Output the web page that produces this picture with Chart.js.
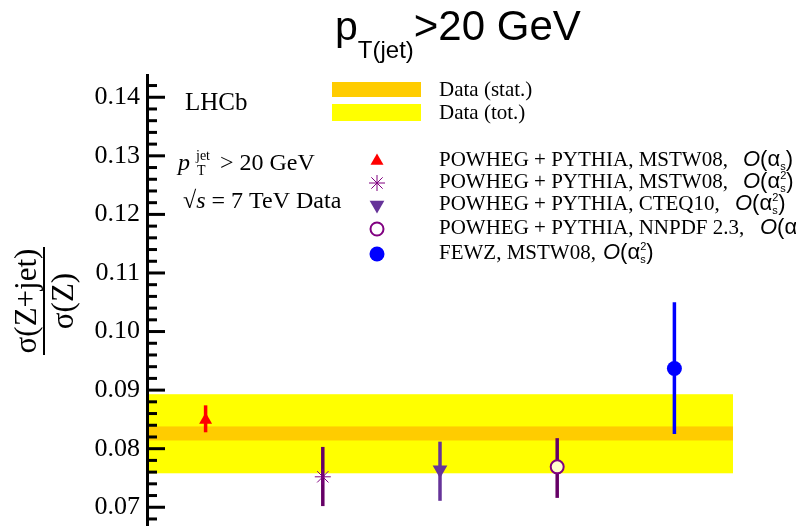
<!DOCTYPE html>
<html>
<head>
<meta charset="utf-8">
<script src="https://cdn.jsdelivr.net/npm/chart.js@4.4.0/dist/chart.umd.min.js"></script>
<style>
  body { margin: 0; background: #fff; }
  #wrap { width: 796px; height: 526px; position: relative; }
</style>
</head>
<body>
<div id="wrap"><canvas id="myChart" width="796" height="526"></canvas></div>
<script>
// values (sigma(Z+jet)/sigma(Z), pT jet > 20 GeV)
const modelLabels = [
  "POWHEG + PYTHIA, MSTW08, O(as)",
  "POWHEG + PYTHIA, MSTW08, O(as2)",
  "POWHEG + PYTHIA, CTEQ10, O(as2)",
  "POWHEG + PYTHIA, NNPDF 2.3, O(as2)",
  "FEWZ, MSTW08, O(as2)",
];
const modelX = [1, 2, 3, 4, 5];
const modelValues = [0.0849, 0.0752, 0.0764, 0.0769, 0.0937];
const modelErrLow = [0.0828, 0.0702, 0.0711, 0.0716, 0.0825];
const modelErrHigh = [0.0874, 0.0803, 0.0812, 0.0818, 0.105];
const dataStatBand = [0.0814, 0.0838];
const dataTotBand = [0.0758, 0.0893];
const yTickValues = [0.07, 0.08, 0.09, 0.1, 0.11, 0.12, 0.13, 0.14];
const yMin = 0.0668;
const yMax = 0.1438;
const xMin = 0.5;
const xMax = 5.5;

const serif = "'Liberation Serif', 'DejaVu Serif', serif";
const sans = "'Liberation Sans', Arial, sans-serif";

const markerStyles = [
  { pointStyle: "triangle", radius: 7.5, rotation: 0, fill: "#ff0000", stroke: "#ff0000", borderWidth: 0, bar: "#ff0000" },
  { pointStyle: "star", radius: 8, rotation: 0, fill: "#800080", stroke: "#800080", borderWidth: 1, bar: "#660066" },
  { pointStyle: "triangle", radius: 8.5, rotation: 180, fill: "#663399", stroke: "#663399", borderWidth: 0, bar: "#663399" },
  { pointStyle: "circle", radius: 6.5, rotation: 0, fill: "#ffffcc", stroke: "#800080", borderWidth: 2, bar: "#660066" },
  { pointStyle: "circle", radius: 7.5, rotation: 0, fill: "#0000ff", stroke: "#0000ff", borderWidth: 0, bar: "#0000ff" },
];

const datasets = modelLabels.map((label, i) => ({
  label: label,
  data: [{ x: modelX[i], y: modelValues[i] }],
  pointStyle: markerStyles[i].pointStyle,
  rotation: markerStyles[i].rotation,
  pointRadius: markerStyles[i].radius,
  backgroundColor: markerStyles[i].fill,
  borderColor: markerStyles[i].stroke,
  borderWidth: markerStyles[i].borderWidth,
  showLine: false,
  clip: false,
}));

// draws a list of text pieces one after the other
function textRun(ctx, x, y, parts) {
  parts.forEach((p) => {
    if (p.stack) {
      let w = 0;
      p.stack.forEach((s) => {
        ctx.font = s.font;
        ctx.fillText(s.t, x, y + s.dy);
        w = Math.max(w, ctx.measureText(s.t).width);
      });
      x += w;
    } else {
      ctx.font = p.font;
      ctx.fillText(p.t, x, y + (p.dy || 0));
      x += ctx.measureText(p.t).width;
    }
  });
  return x;
}

function alphaS(squared) {
  const parts = [
    { t: "O", font: "italic 22px " + sans },
    { t: "(\u03b1", font: "22px " + sans },
  ];
  if (squared) {
    parts.push({ stack: [
      { t: "s", font: "11px " + sans, dy: 4 },
      { t: "2", font: "11px " + sans, dy: -9 },
    ] });
  } else {
    parts.push({ t: "s", font: "11px " + sans, dy: 4 });
  }
  parts.push({ t: ")", font: "22px " + sans });
  return parts;
}

const bandsAndBars = {
  id: "bandsAndBars",
  beforeDatasetsDraw(chart) {
    const ctx = chart.ctx;
    const xs = chart.scales.x;
    const ys = chart.scales.y;
    const x1 = xs.getPixelForValue(xMin);
    const x2 = xs.getPixelForValue(xMax);
    ctx.save();
    ctx.fillStyle = "#ffff00";
    let t = ys.getPixelForValue(dataTotBand[1]);
    let b = ys.getPixelForValue(dataTotBand[0]);
    ctx.fillRect(x1, t, x2 - x1, b - t);
    ctx.fillStyle = "#ffcc00";
    t = ys.getPixelForValue(dataStatBand[1]);
    b = ys.getPixelForValue(dataStatBand[0]);
    ctx.fillRect(x1, t, x2 - x1, b - t);

    ctx.lineWidth = 3.5;
    modelX.forEach((xv, i) => {
      const px = xs.getPixelForValue(xv);
      ctx.strokeStyle = markerStyles[i].bar;
      ctx.beginPath();
      ctx.moveTo(px, ys.getPixelForValue(modelErrHigh[i]));
      ctx.lineTo(px, ys.getPixelForValue(modelErrLow[i]));
      ctx.stroke();
    });
    ctx.restore();
  },
  afterDraw(chart) {
    const ctx = chart.ctx;
    const ys = chart.scales.y;
    const left = chart.chartArea.left;
    ctx.save();
    // inner ticks on the y axis
    ctx.strokeStyle = "#000";
    ctx.lineWidth = 3;
    const minorStep = 0.002;
    for (let k = Math.ceil(yMin / minorStep); k * minorStep <= yMax; k++) {
      const v = k * minorStep;
      const major = k % 5 === 0;
      const py = ys.getPixelForValue(v);
      ctx.beginPath();
      ctx.moveTo(left, py);
      ctx.lineTo(left + (major ? 18 : 10), py);
      ctx.stroke();
    }

    ctx.fillStyle = "#000";
    ctx.textBaseline = "alphabetic";
    ctx.textAlign = "left";

    // title
    textRun(ctx, 335, 40, [
      { t: "p", font: "41px " + sans },
      { t: "T(jet)", font: "24px " + sans, dy: 18 },
      { t: ">20 GeV", font: "42px " + sans },
    ]);

    // y axis title as a fraction
    ctx.save();
    ctx.translate(44, 301);
    ctx.rotate(-Math.PI / 2);
    ctx.textAlign = "center";
    ctx.font = "31px " + serif;
    ctx.fillText("\u03c3(Z+jet)", 0, -8);
    ctx.fillText("\u03c3(Z)", 0, 29);
    ctx.fillRect(-54, -1, 108, 2);
    ctx.restore();

    ctx.textAlign = "left";
    ctx.font = "25px " + serif;
    ctx.fillText("LHCb", 185, 110);

    textRun(ctx, 178, 170, [{ t: "p", font: "italic 24px " + serif }]);
    ctx.font = "14px " + serif;
    ctx.fillText("jet", 196, 160);
    ctx.fillText("T", 197, 175);
    ctx.font = "24px " + serif;
    ctx.fillText("> 20 GeV", 220, 170);

    textRun(ctx, 183, 208, [
      { t: "\u221a", font: "24px " + serif },
      { t: "s", font: "italic 24px " + serif },
      { t: " = 7 TeV Data", font: "24px " + serif },
    ]);

    // legend: data bands
    ctx.fillStyle = "#ffcc00";
    ctx.fillRect(332, 82, 89, 15);
    ctx.fillStyle = "#ffff00";
    ctx.fillRect(332, 104, 89, 17);
    ctx.fillStyle = "#000";
    ctx.font = "21px " + serif;
    ctx.fillText("Data (stat.)", 439, 96);
    ctx.fillText("Data (tot.)", 439, 119);

    // legend: models
    const rowY = [161, 183, 205, 229, 254];
    const rowText = [
      "POWHEG + PYTHIA, MSTW08,",
      "POWHEG + PYTHIA, MSTW08,",
      "POWHEG + PYTHIA, CTEQ10,",
      "POWHEG + PYTHIA, NNPDF 2.3,",
      "FEWZ, MSTW08,",
    ];
    const alphaX = [743, 743, 735, 760, 603];
    rowY.forEach((ry, i) => {
      const m = markerStyles[i];
      ctx.fillStyle = i === 3 ? "#ffffff" : m.fill;
      ctx.strokeStyle = m.stroke;
      ctx.lineWidth = m.borderWidth;
      Chart.helpers.drawPoint(ctx, {
        pointStyle: m.pointStyle,
        rotation: m.rotation,
        radius: m.radius,
        borderWidth: m.borderWidth,
      }, 377, ry);
      ctx.fillStyle = "#000";
      ctx.font = "21px " + serif;
      ctx.fillText(rowText[i], 439, ry + 5);
      textRun(ctx, alphaX[i], ry + 5, alphaS(i > 0));
    });
    ctx.restore();
  },
};

const chart = new Chart(document.getElementById("myChart"), {
  type: "scatter",
  data: { datasets: datasets },
  plugins: [bandsAndBars],
  options: {
    responsive: false,
    animation: false,
    events: [],
    devicePixelRatio: 1,
    layout: { autoPadding: false, padding: { left: 0, right: 63, top: 75, bottom: 0 } },
    plugins: { legend: { display: false }, tooltip: { enabled: false } },
    scales: {
      x: { type: "linear", min: xMin, max: xMax, display: false },
      y: {
        type: "linear",
        min: yMin,
        max: yMax,
        afterFit: (scale) => {
          scale.width = 147;
          scale.paddingTop = 0;
          scale.paddingBottom = 0;
        },
        afterBuildTicks: (scale) => { scale.ticks = yTickValues.map((v) => ({ value: v })); },
        grid: { display: false, drawTicks: false },
        border: { display: true, color: "#000", width: 3, z: 1 },
        ticks: {
          padding: 7,
          color: "#000",
          font: { family: serif, size: 26 },
          callback: (v) => v.toFixed(2),
        },
      },
    },
  },
});
</script>
</body>
</html>
